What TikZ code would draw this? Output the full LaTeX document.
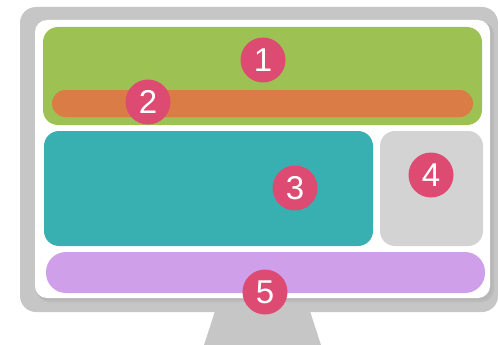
\documentclass[tikz,border=0pt]{standalone}
\usepackage{fontspec}
\setsansfont{Liberation Sans}
\definecolor{monitorgray}{HTML}{C6C6C6}
\definecolor{headergreen}{HTML}{9DC153}
\definecolor{navorange}{HTML}{D97C45}
\definecolor{mainteal}{HTML}{38B0B1}
\definecolor{sidegray}{HTML}{D3D3D3}
\definecolor{footpurple}{HTML}{CFA0E9}
\definecolor{badgepink}{HTML}{DD4B73}
\begin{document}
\begin{tikzpicture}[x=1pt,y=-1pt,
    badge/.style={circle,fill=badgepink,text=white,minimum size=45pt,
      inner sep=0pt,font=\sffamily\fontsize{33}{33}\selectfont}]
  \useasboundingbox (0,0) rectangle (498,345);
  % monitor
  \fill[monitorgray] (217,305) -- (308,305) -- (321,345) -- (204,345) -- cycle;
  \fill[monitorgray,rounded corners=16] (20,7) rectangle (498,312);
  \fill[black!30,opacity=.5,rounded corners=12] (37,22) rectangle (494,302);
  \fill[black!30,opacity=.5,rounded corners=12] (36,21) rectangle (492,300);
  \fill[white,rounded corners=12] (35,20) rectangle (490,298);
  % page regions
  \fill[headergreen,rounded corners=15] (43,27) rectangle (482,125);
  \fill[navorange,rounded corners=13.5] (52,90) rectangle (473,117);
  \fill[mainteal,rounded corners=15] (44,131) rectangle (373,246);
  \fill[sidegray,rounded corners=15] (380,131) rectangle (483,246);
  \fill[footpurple,rounded corners=20] (46,252) rectangle (485,293);
  % badges
  \foreach \n/\x/\y in {1/263/60,2/148/102,3/295/188,4/431/175,5/265/292}
    \node[badge] (b\n) at (\x,\y) {\n};
\end{tikzpicture}
\end{document}
